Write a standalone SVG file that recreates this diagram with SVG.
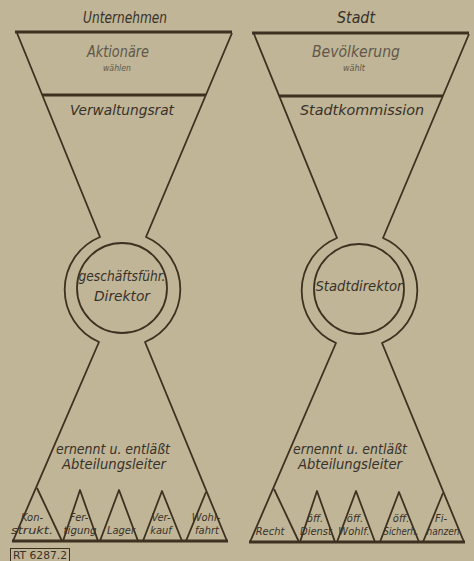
<svg xmlns="http://www.w3.org/2000/svg" width="474" height="561" viewBox="0 0 474 561">
<style>
.bg{fill:#c0b596}
.thick{stroke:#3f3121;stroke-width:3;fill:none}
.ln{stroke:#3f3121;stroke-width:1.8;fill:none;stroke-linejoin:round}
text{font-family:"DejaVu Sans Condensed","Liberation Sans Narrow","DejaVu Sans",sans-serif;font-style:italic;text-anchor:middle;fill:#38312a}
.ti{font-size:15px}
.lt{font-size:15px;fill:#5f574c}
.sm{font-size:8px;fill:#5f574c}
.md{font-size:14px}
.tr{font-size:11px}
</style>
<defs>
<g id="funnel">
<path class="thick" d="M15,32 H232"/>
<path class="thick" d="M42,95 H206"/>
<path class="ln" d="M17,33 L100,237 A57,57 0 0 0 99,342 L13,541"/>
<path class="ln" d="M232,33 L146,237 A57,57 0 0 1 145,342 L227,541"/>
<circle class="ln" cx="122" cy="288" r="45"/>
<path class="thick" d="M12,541 H228"/>
<path class="ln" d="M37,488 L62,541"/>
<path class="ln" d="M63,541 L80,490 L98,541"/>
<path class="ln" d="M100,541 L119,490 L138,541"/>
<path class="ln" d="M143,541 L162,491 L182,541"/>
<path class="ln" d="M186,541 L206,492"/>
</g>
</defs>
<rect class="bg" x="0" y="0" width="474" height="561"/>
<g id="unternehmen">
<use href="#funnel"/>
<text class="ti" x="125" y="23" textLength="84" lengthAdjust="spacingAndGlyphs">Unternehmen</text>
<text class="lt" x="118" y="57" textLength="62" lengthAdjust="spacingAndGlyphs">Aktionäre</text>
<text class="sm" x="117" y="71" textLength="28" lengthAdjust="spacingAndGlyphs">wählen</text>
<text class="md" x="122" y="115" textLength="104" lengthAdjust="spacingAndGlyphs">Verwaltungsrat</text>
<text class="md" x="122" y="281" textLength="87" lengthAdjust="spacingAndGlyphs">geschäftsführ.</text>
<text class="md" x="122" y="301" textLength="56" lengthAdjust="spacingAndGlyphs">Direktor</text>
<text class="md" x="113" y="454" textLength="114" lengthAdjust="spacingAndGlyphs">ernennt u. entläßt</text>
<text class="md" x="114" y="469" textLength="104" lengthAdjust="spacingAndGlyphs">Abteilungsleiter</text>
<text class="tr" x="32" y="521">Kon-</text>
<text class="tr" x="32" y="534" textLength="42" lengthAdjust="spacingAndGlyphs">strukt.</text>
<text class="tr" x="79" y="521">Fer-</text>
<text class="tr" x="80" y="534" textLength="33" lengthAdjust="spacingAndGlyphs">tigung</text>
<text class="tr" x="121" y="534">Lager</text>
<text class="tr" x="161" y="521">Ver-</text>
<text class="tr" x="161" y="534">kauf</text>
<text class="tr" x="206" y="521">Wohl-</text>
<text class="tr" x="207" y="534">fahrt</text>
</g>
<g id="stadt" transform="translate(237,1)">
<use href="#funnel"/>
</g>
<g id="stadt-texts">
<text class="ti" x="356" y="23" textLength="38" lengthAdjust="spacingAndGlyphs">Stadt</text>
<text class="lt" x="356" y="57" textLength="88" lengthAdjust="spacingAndGlyphs">Bevölkerung</text>
<text class="sm" x="354" y="71" textLength="22" lengthAdjust="spacingAndGlyphs">wählt</text>
<text class="md" x="362" y="115" textLength="124" lengthAdjust="spacingAndGlyphs">Stadtkommission</text>
<text class="md" x="359" y="291" textLength="87" lengthAdjust="spacingAndGlyphs">Stadtdirektor</text>
<text class="md" x="350" y="454" textLength="114" lengthAdjust="spacingAndGlyphs">ernennt u. entläßt</text>
<text class="md" x="350" y="469" textLength="104" lengthAdjust="spacingAndGlyphs">Abteilungsleiter</text>
<text class="tr" x="270" y="535">Recht</text>
<text class="tr" x="315" y="522">öff.</text>
<text class="tr" x="316" y="535">Dienst</text>
<text class="tr" x="355" y="522">öff.</text>
<text class="tr" x="354" y="535">Wohlf.</text>
<text class="tr" x="401" y="522">öff.</text>
<text class="tr" x="401" y="535" textLength="35" lengthAdjust="spacingAndGlyphs">Sicherh.</text>
<text class="tr" x="441" y="522">Fi-</text>
<text class="tr" x="443" y="535" textLength="33" lengthAdjust="spacingAndGlyphs">nanzen</text>
</g>
<g id="label">
<rect x="10.5" y="548.5" width="59" height="13" fill="none" stroke="#3f3121" stroke-width="1"/>
<text x="40" y="559" style="font-style:normal;font-size:11px" textLength="54" lengthAdjust="spacingAndGlyphs">RT 6287.2</text>
</g>
</svg>
